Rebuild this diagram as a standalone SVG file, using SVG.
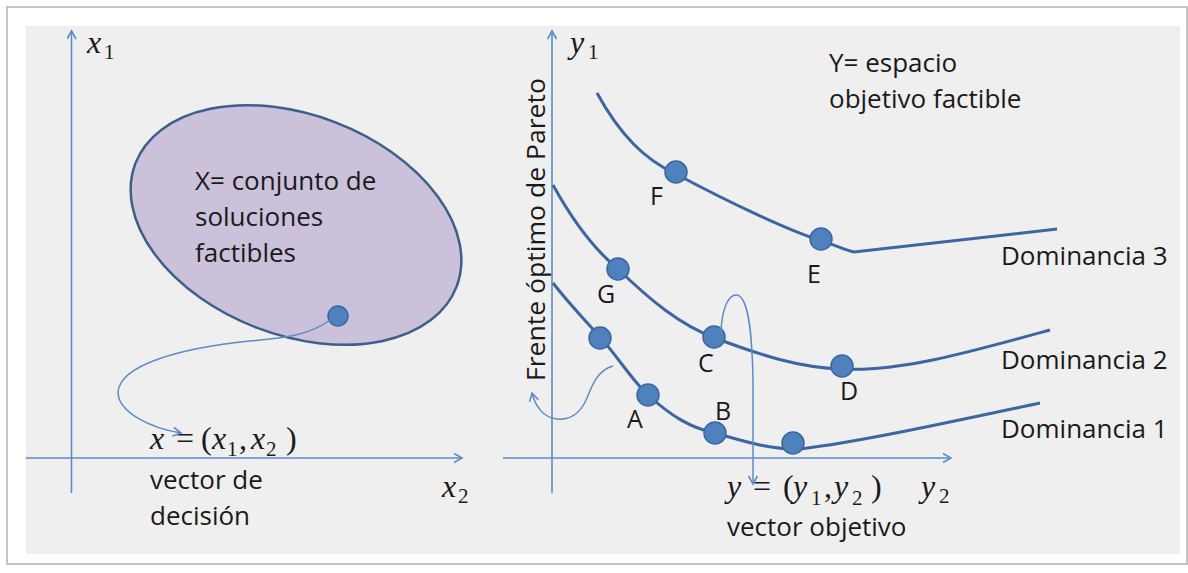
<svg xmlns="http://www.w3.org/2000/svg" width="1188" height="573" viewBox="0 0 1188 573">
<defs>
<marker id="arr" markerWidth="12" markerHeight="12" refX="9" refY="5" orient="auto" markerUnits="userSpaceOnUse">
<path d="M1,0.5 L9,5 L1,9.5" fill="none" stroke="#5b8cc8" stroke-width="1.6"/>
</marker>
<style>
.axis{stroke:#5b8cc8;stroke-width:1.6;fill:none}
.conn{stroke:#5b8cc8;stroke-width:1.5;fill:none}
.curve{stroke:#3b66a2;stroke-width:3;fill:none}
.dot{fill:#4f81bd;stroke:#3a67a3;stroke-width:1.5}
.t{font-family:"Open Sans","Liberation Sans",sans-serif;font-size:26px;fill:#1a1a1a}
.lbl{font-family:"Open Sans","Liberation Sans",sans-serif;font-size:25px;fill:#1a1a1a}
.m{font-family:"Liberation Serif","DejaVu Serif",serif;font-size:32px;fill:#1a1a1a}
.mi{font-style:italic}
.sub{font-size:21px}
</style>
</defs>
<rect x="0" y="0" width="1188" height="573" fill="#ffffff"/>
<rect x="7" y="7" width="1180" height="557" fill="#ffffff" stroke="#c4c4c4" stroke-width="2"/>
<rect x="26" y="26" width="1154" height="528" fill="#efefef"/>

<g id="left-axes">
<line class="axis" x1="71.5" y1="493" x2="71.5" y2="31" marker-end="url(#arr)"/>
<line class="axis" x1="26" y1="458" x2="462" y2="458" marker-end="url(#arr)"/>
<text class="m" x="87" y="53"><tspan class="mi">x</tspan><tspan class="sub" x="104" y="59">1</tspan></text>
<text class="m" x="442" y="497"><tspan class="mi">x</tspan><tspan class="sub" x="458" y="503">2</tspan></text>
</g>

<g id="set-X">
<ellipse cx="296" cy="225" rx="172" ry="110" transform="rotate(21 296 225)" fill="#ccc1da" stroke="#3d5f8c" stroke-width="2.5"/>
<text class="t" x="195" y="190">X= conjunto de</text>
<text class="t" x="195" y="226">soluciones</text>
<text class="t" x="195" y="262">factibles</text>
<circle class="dot" cx="338" cy="316" r="10"/>
</g>

<g id="decision-vector">
<text class="m" y="449"><tspan class="mi" x="150">x</tspan><tspan x="176">=</tspan><tspan x="201">(</tspan><tspan class="mi" x="212">x</tspan><tspan class="sub" x="227" y="456">1</tspan><tspan x="239" y="449">,</tspan><tspan class="mi" x="251">x</tspan><tspan class="sub" x="266" y="456">2</tspan><tspan x="286" y="449">)</tspan></text>
<text class="t" x="150" y="489">vector de</text>
<text class="t" x="150" y="525">decisión</text>
</g>

<g id="right-axes">
<line class="axis" x1="552" y1="493" x2="552" y2="31" marker-end="url(#arr)"/>
<line class="axis" x1="503" y1="458" x2="951" y2="458" marker-end="url(#arr)"/>
<text class="m" x="570" y="53"><tspan class="mi">y</tspan><tspan class="sub" x="588" y="59">1</tspan></text>
<text class="m" x="921" y="497"><tspan class="mi">y</tspan><tspan class="sub" x="939" y="503">2</tspan></text>
<text class="t" transform="translate(545,381) rotate(-90)" x="0" y="0" textLength="303" lengthAdjust="spacingAndGlyphs">Frente óptimo de Pareto</text>
</g>

<g id="space-Y">
<text class="t" x="829" y="72">Y= espacio</text>
<text class="t" x="829" y="108">objetivo factible</text>
</g>

<g id="dominancia-3">
<path class="curve" d="M597,93 C620,135 645,160 676,174 C730,203 790,231 822,241 C835,245 845,250 854,252 L1057,229"/>
<circle class="dot" cx="676" cy="172" r="11"/>
<circle class="dot" cx="821" cy="239" r="11"/>
<text class="lbl" x="650" y="205">F</text>
<text class="lbl" x="807" y="283">E</text>
<text class="t" x="1001" y="265">Dominancia 3</text>
</g>

<g id="dominancia-2">
<path class="curve" d="M553,185 C575,225 595,250 618,269 C650,300 680,325 715,338 C760,355 800,368 842,369 C900,372 970,352 1050,330"/>
<circle class="dot" cx="618" cy="269" r="11"/>
<circle class="dot" cx="714" cy="337" r="11"/>
<circle class="dot" cx="842" cy="366" r="11"/>
<text class="lbl" x="597" y="303">G</text>
<text class="lbl" x="698" y="372">C</text>
<text class="lbl" x="840" y="400">D</text>
<text class="t" x="1001" y="369">Dominancia 2</text>
</g>

<g id="dominancia-1">
<path class="curve" d="M553,283 C570,305 585,320 601,338 C620,360 632,380 648,395 C670,415 690,428 715,433 C740,440 770,450 800,449 C860,442 960,420 1040,403"/>
<circle class="dot" cx="600" cy="338" r="11"/>
<circle class="dot" cx="648" cy="395" r="11"/>
<circle class="dot" cx="715" cy="433" r="11"/>
<circle class="dot" cx="793" cy="443" r="11"/>
<text class="lbl" x="627" y="428">A</text>
<text class="lbl" x="715" y="420">B</text>
<text class="t" x="1001" y="438">Dominancia 1</text>
</g>

<g id="objective-vector">
<text class="m" y="497"><tspan class="mi" x="727">y</tspan><tspan x="753">=</tspan><tspan x="783">(</tspan><tspan class="mi" x="793">y</tspan><tspan class="sub" x="811" y="505">1</tspan><tspan x="824" y="497">,</tspan><tspan class="mi" x="834">y</tspan><tspan class="sub" x="852" y="505">2</tspan><tspan x="871" y="497">)</tspan></text>
<text class="t" x="727" y="536">vector objetivo</text>
</g>

<g id="connectors">
<path class="conn" d="M330,320 C310,335 285,338 250,341 C180,348 120,365 118,392 C118,412 150,428 181,433" marker-end="url(#arr)"/>
<path class="conn" d="M721,332 C722,305 730,294 737,295 C748,297 752,330 753,380 L753,484" marker-end="url(#arr)"/>
<path class="conn" d="M613,366 C598,370 592,385 587,398 C580,415 568,420 557,419 C543,418 535,405 532,393" marker-end="url(#arr)"/>
</g>
</svg>
